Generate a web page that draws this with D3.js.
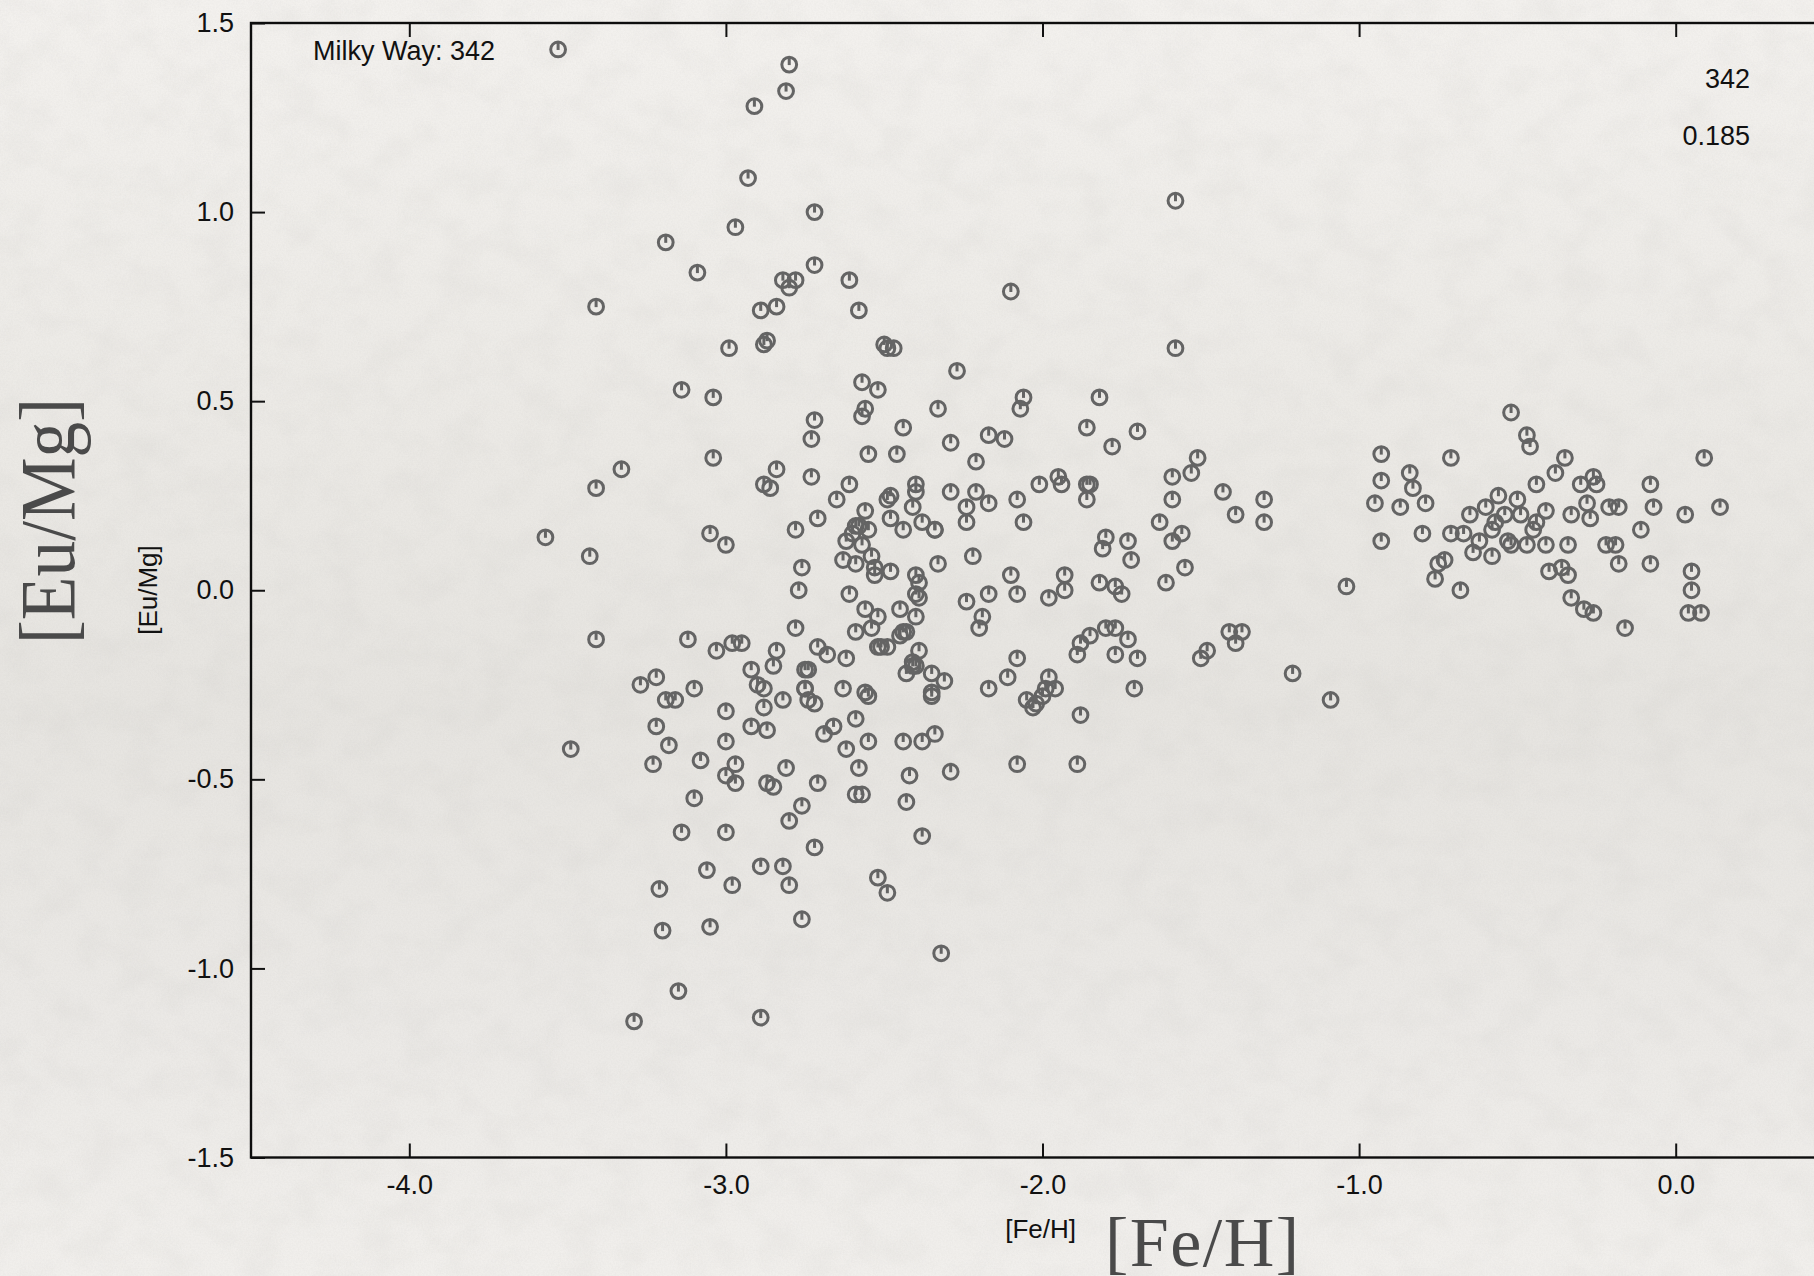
<!DOCTYPE html>
<html>
<head>
<meta charset="utf-8">
<script src="https://cdn.jsdelivr.net/npm/d3@7"></script>
<style>
  html, body { margin: 0; padding: 0; background: #ebe9e5; }
  #chart { width: 1814px; height: 1276px; overflow: hidden; }
  .tick text { font-family: "Liberation Sans", Arial, Helvetica, sans-serif; font-size: 27px; fill: #111; }
  .tick line { stroke: #111; stroke-width: 2; }
</style>
</head>
<body>
<div id="chart"></div>
<script>
// [Fe/H] vs [Eu/Mg] for Milky Way stars, grouped by metallicity band
const veryPoorStars = [
  [-3.53, 1.43], [-3.57, 0.14], [-3.49, -0.42], [-3.43, 0.09], [-3.41, 0.75], [-3.41, 0.27], [-3.41, -0.13], [-3.33, 0.32], [-3.29, -1.14], [-3.27, -0.25],
  [-3.22, -0.23], [-3.23, -0.46], [-3.22, -0.36], [-3.21, -0.79], [-3.20, -0.90], [-3.19, 0.92], [-3.19, -0.29], [-3.18, -0.41], [-3.16, -0.29], [-3.15, -1.06],
  [-3.14, -0.64], [-3.14, 0.53], [-3.12, -0.13], [-3.10, -0.55], [-3.10, -0.26], [-3.09, 0.84], [-3.08, -0.45], [-3.06, -0.74], [-3.05, -0.89],
  [-3.05, 0.15], [-3.04, 0.51], [-3.04, 0.35], [-3.03, -0.16], [-3.00, 0.12], [-3.00, -0.32], [-3.00, -0.49], [-3.00, -0.64], [-3.00, -0.40], [-2.99, 0.64],
  [-2.98, -0.78], [-2.98, -0.14], [-2.97, 0.96], [-2.97, -0.46], [-2.97, -0.51], [-2.95, -0.14], [-2.93, 1.09], [-2.92, -0.21], [-2.92, -0.36], [-2.91, 1.28],
  [-2.90, -0.25], [-2.89, -0.73], [-2.89, -1.13], [-2.88, -0.26], [-2.89, 0.74], [-2.88, -0.31], [-2.88, 0.28], [-2.88, 0.65], [-2.87, -0.37], [-2.87, 0.66],
  [-2.87, -0.51], [-2.86, 0.27], [-2.85, -0.52], [-2.84, 0.32], [-2.85, -0.20], [-2.84, 0.75], [-2.84, -0.16], [-2.82, -0.73], [-2.82, 0.82], [-2.82, -0.29],
  [-2.81, 1.32], [-2.81, -0.47], [-2.80, -0.61], [-2.80, 0.80], [-2.80, 1.39], [-2.80, -0.78], [-2.78, 0.16], [-2.78, 0.82], [-2.78, -0.10], [-2.77, 0.00],
  [-2.76, 0.06], [-2.76, -0.87], [-2.76, -0.57], [-2.75, -0.21], [-2.75, -0.26], [-2.75, -0.26], [-2.74, -0.29], [-2.74, -0.21], [-2.73, 0.30],
  [-2.73, 0.40], [-2.72, -0.68], [-2.72, 0.45], [-2.72, 1.00], [-2.72, 0.86], [-2.72, -0.30], [-2.71, -0.51], [-2.71, 0.19], [-2.71, -0.15], [-2.69, -0.38],
  [-2.68, -0.17], [-2.66, -0.36], [-2.65, 0.24], [-2.63, -0.26], [-2.63, 0.08], [-2.62, -0.42], [-2.62, 0.13], [-2.61, -0.01], [-2.62, -0.18], [-2.61, 0.82],
  [-2.61, 0.28], [-2.60, 0.15], [-2.59, -0.34], [-2.59, -0.11], [-2.59, -0.54], [-2.59, 0.17], [-2.58, -0.47], [-2.59, 0.07], [-2.58, 0.74], [-2.58, 0.17],
  [-2.57, 0.46], [-2.57, 0.12], [-2.57, 0.55], [-2.57, -0.54], [-2.56, 0.48], [-2.56, -0.05], [-2.56, 0.21], [-2.56, -0.27], [-2.55, 0.36], [-2.55, 0.16],
  [-2.55, -0.28], [-2.55, -0.40], [-2.54, 0.09], [-2.54, -0.10], [-2.53, 0.04], [-2.53, 0.06], [-2.52, -0.76], [-2.52, -0.07], [-2.52, -0.15], [-2.52, 0.53],
  [-2.51, -0.15]
];

const poorStars = [
  [-2.50, 0.65], [-2.49, 0.64], [-2.49, 0.24], [-2.49, -0.80], [-2.49, -0.15], [-2.48, 0.25], [-2.48, 0.19], [-2.48, 0.05], [-2.47, 0.64], [-2.46, 0.36],
  [-2.45, -0.05], [-2.45, -0.12], [-2.44, 0.43], [-2.44, -0.40], [-2.44, -0.11], [-2.44, 0.16], [-2.43, -0.56], [-2.43, -0.22], [-2.43, -0.11], [-2.42, -0.49],
  [-2.41, -0.19], [-2.41, 0.22], [-2.41, -0.20], [-2.40, 0.28], [-2.40, 0.26], [-2.40, -0.01], [-2.40, 0.04], [-2.40, -0.07], [-2.40, -0.20], [-2.39, 0.02],
  [-2.39, -0.16], [-2.39, -0.02], [-2.38, -0.65], [-2.38, -0.40], [-2.38, 0.18], [-2.35, -0.22], [-2.35, -0.27], [-2.35, -0.28], [-2.34, 0.16], [-2.34, 0.16],
  [-2.34, -0.38], [-2.33, 0.48], [-2.33, 0.07], [-2.32, -0.96], [-2.31, -0.24], [-2.29, -0.48], [-2.29, 0.39], [-2.29, 0.26], [-2.27, 0.58], [-2.24, -0.03],
  [-2.24, 0.18], [-2.24, 0.22], [-2.22, 0.09], [-2.21, 0.26], [-2.21, 0.34], [-2.20, -0.10], [-2.19, -0.07], [-2.17, -0.26], [-2.17, 0.41], [-2.17, -0.01],
  [-2.17, 0.23], [-2.12, 0.40], [-2.11, -0.23], [-2.10, 0.79], [-2.10, 0.04], [-2.08, -0.18], [-2.08, 0.24], [-2.08, -0.01], [-2.08, -0.46], [-2.07, 0.48],
  [-2.06, 0.51], [-2.06, 0.18], [-2.05, -0.29], [-2.03, -0.31], [-2.02, -0.30], [-2.01, 0.28], [-2.00, -0.28], [-1.99, -0.26], [-1.98, -0.23], [-1.98, -0.02],
  [-1.96, -0.26], [-1.95, 0.30], [-1.94, 0.28], [-1.93, 0.04], [-1.93, 0.00], [-1.89, -0.46], [-1.89, -0.17], [-1.88, -0.14], [-1.88, -0.33], [-1.86, 0.43],
  [-1.86, 0.28], [-1.86, 0.24], [-1.85, -0.12], [-1.85, 0.28], [-1.82, 0.51], [-1.82, 0.02], [-1.81, 0.11], [-1.80, 0.14], [-1.80, -0.10], [-1.78, 0.38],
  [-1.77, -0.10], [-1.77, 0.01], [-1.77, -0.17], [-1.75, -0.01], [-1.73, 0.13], [-1.73, -0.13], [-1.72, 0.08], [-1.71, -0.26], [-1.70, -0.18], [-1.70, 0.42],
  [-1.63, 0.18], [-1.61, 0.02], [-1.59, 0.13], [-1.59, 0.24], [-1.59, 0.30], [-1.58, 1.03], [-1.58, 0.64], [-1.56, 0.15], [-1.55, 0.06], [-1.53, 0.31],
  [-1.51, 0.35], [-1.50, -0.18], [-1.48, -0.16], [-1.43, 0.26], [-1.41, -0.11], [-1.39, 0.20], [-1.39, -0.14], [-1.37, -0.11], [-1.30, 0.24], [-1.30, 0.18],
  [-1.21, -0.22], [-1.09, -0.29], [-1.04, 0.01]
];

const diskStars = [
  [-0.95, 0.23], [-0.93, 0.36], [-0.93, 0.29], [-0.93, 0.13], [-0.87, 0.22], [-0.84, 0.31], [-0.83, 0.27], [-0.80, 0.15], [-0.79, 0.23], [-0.76, 0.03],
  [-0.75, 0.07], [-0.73, 0.08], [-0.71, 0.35], [-0.71, 0.15], [-0.68, 0.00], [-0.67, 0.15], [-0.65, 0.20], [-0.64, 0.10], [-0.62, 0.13], [-0.60, 0.22],
  [-0.58, 0.09], [-0.58, 0.16], [-0.57, 0.18], [-0.56, 0.25], [-0.54, 0.20], [-0.53, 0.13], [-0.52, 0.12], [-0.52, 0.47], [-0.50, 0.24], [-0.49, 0.20],
  [-0.47, 0.12], [-0.47, 0.41], [-0.46, 0.38], [-0.45, 0.16], [-0.44, 0.28], [-0.44, 0.18], [-0.41, 0.21], [-0.41, 0.12], [-0.40, 0.05], [-0.38, 0.31],
  [-0.36, 0.06], [-0.35, 0.35], [-0.34, 0.04], [-0.33, 0.20], [-0.34, 0.12], [-0.33, -0.02], [-0.30, 0.28], [-0.29, -0.05], [-0.28, 0.23], [-0.27, 0.19],
  [-0.26, -0.06], [-0.26, 0.30], [-0.25, 0.28], [-0.22, 0.12], [-0.21, 0.22], [-0.19, 0.12], [-0.18, 0.22], [-0.18, 0.07], [-0.16, -0.10], [-0.11, 0.16],
  [-0.08, 0.28], [-0.07, 0.22], [-0.08, 0.07], [0.04, -0.06], [0.03, 0.20], [0.05, 0.05], [0.05, 0.00], [0.08, -0.06], [0.09, 0.35], [0.14, 0.22]
];

const xTicks = [-4, -3, -2, -1, 0];
const yTicks = [-1.5, -1, -0.5, 0, 0.5, 1, 1.5];
const sampleName = 'Milky Way';
const dispersion = '0.185';

const stars = [...veryPoorStars, ...poorStars, ...diskStars];

const W = 1814, H = 1276;
const frame = { left: 251, top: 23, right: 1834, bottom: 1157.5 };

const svg = d3.select('#chart').append('svg')
  .attr('width', W).attr('height', H)
  .attr('viewBox', `0 0 ${W} ${H}`);

// paper background: soft tonal gradient plus mottled grain
const defs = svg.append('defs');
const bg = defs.append('linearGradient').attr('id', 'paperTone')
  .attr('x1', 0).attr('y1', 0).attr('x2', 0).attr('y2', 1);
[['0%', '#f3f1ee'], ['35%', '#ebe9e5'], ['55%', '#e6e4e0'], ['80%', '#ebe9e6'], ['100%', '#f1efec']]
  .forEach(([o, c]) => bg.append('stop').attr('offset', o).attr('stop-color', c));

const grain = defs.append('filter').attr('id', 'grain')
  .attr('x', 0).attr('y', 0).attr('width', '100%').attr('height', '100%');
grain.append('feTurbulence').attr('type', 'fractalNoise')
  .attr('baseFrequency', '0.025 0.03').attr('numOctaves', 4).attr('seed', 7);
grain.append('feColorMatrix').attr('type', 'matrix')
  .attr('values', '0 0 0 0 0.55  0 0 0 0 0.54  0 0 0 0 0.52  0.5 0 0 0 -0.2');

const fine = defs.append('filter').attr('id', 'fine')
  .attr('x', 0).attr('y', 0).attr('width', '100%').attr('height', '100%');
fine.append('feTurbulence').attr('type', 'fractalNoise')
  .attr('baseFrequency', 0.6).attr('numOctaves', 2).attr('seed', 3);
fine.append('feColorMatrix').attr('type', 'matrix')
  .attr('values', '0 0 0 0 0.5  0 0 0 0 0.49  0 0 0 0 0.47  0.35 0 0 0 -0.12');

svg.append('rect').attr('width', W).attr('height', H).attr('fill', 'url(#paperTone)');
svg.append('rect').attr('width', W).attr('height', H).attr('filter', 'url(#grain)').attr('opacity', 0.55);
svg.append('rect').attr('width', W).attr('height', H).attr('filter', 'url(#fine)').attr('opacity', 0.5);

const x = d3.scaleLinear().domain([-4.5, 0.5]).range([frame.left, frame.right]);
const y = d3.scaleLinear().domain([-1.5, 1.5]).range([frame.bottom, frame.top]);

const fmt = d => d.toFixed(1);

// ticks on three sides, pointing inward
const xAxisG = svg.append('g').attr('transform', `translate(0,${frame.bottom})`)
  .call(d3.axisBottom(x).tickValues(xTicks).tickSizeInner(-14).tickSizeOuter(0).tickPadding(17).tickFormat(fmt));
const topAxisG = svg.append('g').attr('transform', `translate(0,${frame.top})`)
  .call(d3.axisTop(x).tickValues(xTicks).tickSizeInner(-14).tickSizeOuter(0).tickFormat(''));
const yAxisG = svg.append('g').attr('transform', `translate(${frame.left},0)`)
  .call(d3.axisLeft(y).tickValues(yTicks).tickSizeInner(-14).tickSizeOuter(0).tickPadding(17).tickFormat(fmt));
[xAxisG, topAxisG, yAxisG].forEach(g => {
  g.select('.domain').remove();
  g.attr('font-family', null).attr('font-size', null);
});

svg.append('rect')
  .attr('x', frame.left).attr('y', frame.top)
  .attr('width', frame.right - frame.left).attr('height', frame.bottom - frame.top)
  .attr('fill', 'none').attr('stroke', '#0d0d0d').attr('stroke-width', 2.4);

// open circle markers with a short stem from the top to the centre
const r = 7.4;
const marks = svg.append('g')
  .attr('stroke', '#646464').attr('stroke-width', 3).attr('fill', 'none')
  .selectAll('g').data(stars).join('g')
  .attr('transform', d => `translate(${x(d[0])},${y(d[1])})`);
marks.append('circle').attr('r', r);
marks.append('line').attr('x1', 0).attr('x2', 0).attr('y1', -r).attr('y2', 0.5);

const sans = '"Liberation Sans", Arial, Helvetica, sans-serif';
const serif = '"Liberation Serif", "Times New Roman", serif';

svg.append('text')
  .attr('x', 313).attr('y', 60)
  .attr('font-family', sans).attr('font-size', 27).attr('fill', '#111')
  .text(`${sampleName}: ${stars.length}`);

svg.append('text')
  .attr('x', 1750).attr('y', 88).attr('text-anchor', 'end')
  .attr('font-family', sans).attr('font-size', 27).attr('fill', '#111')
  .text(stars.length);

svg.append('text')
  .attr('x', 1750).attr('y', 145).attr('text-anchor', 'end')
  .attr('font-family', sans).attr('font-size', 27).attr('fill', '#111')
  .text(dispersion);

// small axis titles
svg.append('text')
  .attr('transform', 'translate(157,590) rotate(-90)')
  .attr('text-anchor', 'middle')
  .attr('font-family', sans).attr('font-size', 26).attr('fill', '#111')
  .text('[Eu/Mg]');

svg.append('text')
  .attr('x', 1076).attr('y', 1238).attr('text-anchor', 'end')
  .attr('font-family', sans).attr('font-size', 26).attr('fill', '#111')
  .text('[Fe/H]');

// large serif axis titles
svg.append('text')
  .attr('transform', 'translate(74,521) rotate(-90)')
  .attr('text-anchor', 'middle')
  .attr('font-family', serif).attr('font-size', 78).attr('fill', '#4a4a4a')
  .attr('textLength', 246).attr('lengthAdjust', 'spacingAndGlyphs')
  .text('[Eu/Mg]');

svg.append('text')
  .attr('x', 1105).attr('y', 1266)
  .attr('font-family', serif).attr('font-size', 70).attr('fill', '#4a4a4a')
  .attr('textLength', 194).attr('lengthAdjust', 'spacing')
  .text('[Fe/H]');
</script>
</body>
</html>
